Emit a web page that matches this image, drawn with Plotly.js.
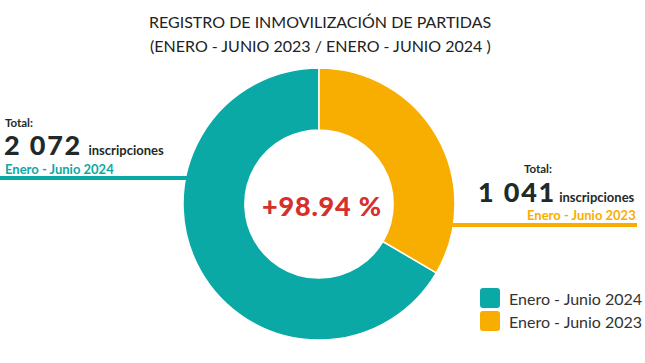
<!DOCTYPE html>
<html><head><meta charset="utf-8">
<script src="https://cdn.plot.ly/plotly-3.0.1.min.js"></script>
<style>html,body{margin:0;padding:0;background:#fff}#c{width:645px;height:363px}</style>
</head><body><div id="c"></div>
<script>
const categories = ["Enero - Junio 2024", "Enero - Junio 2023"];
const values = [2072, 1041];
const totalLabels = ["2 072", "1 041"];
const changeLabel = "+98.94 %";
const colors = ["#0aa9a6", "#f7ae00"];

const W = 645, H = 363;
const px = x => x / W, py = y => 1 - y / H;
const total = values.reduce((a, b) => a + b, 0);
const font = "Lato, 'Open Sans', sans-serif";
const dark = "#222a29";

const trace = {
  type: "pie",
  labels: categories,
  values: values,
  hole: 0.545,
  sort: false,
  direction: "clockwise",
  rotation: 360 * values[1] / total,
  marker: {colors: colors, line: {color: "#ffffff", width: 1.5}},
  textinfo: "none",
  hoverinfo: "label+value",
  domain: {x: [px(183), px(455)], y: [py(340), py(68)]},
  showlegend: false
};

const ann = [];
function T(text, x, y, size, color, xa, ya, weight, align) {
  ann.push({text: text, x: px(x), y: py(y), xref: "paper", yref: "paper",
    xanchor: xa, yanchor: ya, align: align || "center", showarrow: false, borderpad: 0,
    font: {family: font, size: size, color: color, weight: weight || 400}});
}
const numLine = (lbl, gap) => "<span style='letter-spacing:1.8px'>" + lbl + "</span>" + gap +
  "<span style='font-size:13px;font-weight:700'>inscripciones</span>";
// title
T("REGISTRO DE INMOVILIZACIÓN DE PARTIDAS", 320, 21, 16, "#222", "center", "middle");
T("(ENERO - JUNIO 2023 / ENERO - JUNIO 2024 )", 320, 45, 16, "#222", "center", "middle");
// center
T("<span style='letter-spacing:0.8px'>" + changeLabel + "</span>", 322, 205, 27, "#d5302a", "center", "middle", 900);
// left block
T("Total:", 4, 122.5, 11.5, dark, "left", "middle", 700);
T(numLine(totalLabels[0], " "), 3, 145, 27, dark, "left", "middle", 900, "left");
T(categories[0], 4, 168.5, 13, colors[0], "left", "middle", 700);
// right block
T("Total:", 553, 168, 11.5, dark, "right", "middle", 700);
T(numLine(totalLabels[1], "<span style='font-size:13px'> </span>"), 636, 191, 27, dark, "right", "middle", 900, "right");
T(categories[1], 637, 214.5, 13, colors[1], "right", "middle", 700);
// legend
const legY = [298, 321];
categories.forEach((c, i) => T(c, 508, legY[i], 16, "#333", "left", "middle"));

const shapes = [
  {type: "line", xref: "paper", yref: "paper", x0: 0, x1: px(190), y0: py(178), y1: py(178), line: {color: colors[0], width: 4}},
  {type: "line", xref: "paper", yref: "paper", x0: px(452), x1: px(637), y0: py(225), y1: py(225), line: {color: colors[1], width: 4}}
];
legY.forEach((y, i) => {
  const x0 = 480, x1 = 500, y0 = y - 10, y1 = y + 10, r = 3;
  const X = v => px(v), Y = v => py(v);
  shapes.push({type: "path", xref: "paper", yref: "paper", fillcolor: colors[i], line: {width: 0},
    path: `M${X(x0+r)},${Y(y0)} L${X(x1-r)},${Y(y0)} Q${X(x1)},${Y(y0)} ${X(x1)},${Y(y0+r)} L${X(x1)},${Y(y1-r)} Q${X(x1)},${Y(y1)} ${X(x1-r)},${Y(y1)} L${X(x0+r)},${Y(y1)} Q${X(x0)},${Y(y1)} ${X(x0)},${Y(y1-r)} L${X(x0)},${Y(y0+r)} Q${X(x0)},${Y(y0)} ${X(x0+r)},${Y(y0)} Z`});
});

Plotly.newPlot("c", [trace], {
  width: W, height: H, margin: {l: 0, r: 0, t: 0, b: 0},
  paper_bgcolor: "#fff", showlegend: false,
  annotations: ann, shapes: shapes,
  font: {family: font}
}, {displayModeBar: false, staticPlot: true});
</script></body></html>
